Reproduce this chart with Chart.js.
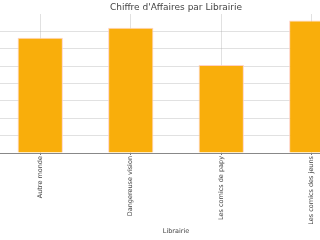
<!DOCTYPE html>
<html>
<head>
<meta charset="utf-8">
<script src="https://cdn.jsdelivr.net/npm/chart.js@4"></script>
<style>
  html, body { margin: 0; padding: 0; overflow: hidden; background: #fff; }
  #wrap { position: absolute; left: -5px; top: 0; width: 362px; height: 240px; }
</style>
</head>
<body>
<div id="wrap"><canvas id="caChart"></canvas></div>
<script>
"use strict";

// Chiffre d'affaires par librairie

let librairies = ["Autre monde", "Dangereuse vision", "Les comics de papy", "Les comics des jeuns"];
let chiffreAffaires = [31850, 34600, 24300, 36550];
let yStep = 5000;

let ctx_ca = document.getElementById("caChart").getContext("2d");
let gridColor = "rgba(170,170,170,0.35)";
let textColor = "#444";

let caChart = new Chart(ctx_ca, {
    type: "bar",
    data: {
        labels: librairies,
        datasets: [{
            label: "Chiffre d'Affaires",
            data: chiffreAffaires,
            backgroundColor: "#F9AE0B",
            borderColor: "rgba(255,205,190,0.9)",
            borderWidth: 1,
            barPercentage: 0.5,
            categoryPercentage: 1.0
        }]
    },
    options: {
        responsive: true,
        maintainAspectRatio: false,
        animation: false,
        layout: { padding: 0 },
        plugins: {
            legend: { display: false },
            tooltip: { enabled: false },
            title: {
                display: true,
                text: "Chiffre d'Affaires par Librairie",
                color: textColor,
                font: { family: "DejaVu Sans", size: 9, weight: "normal" },
                padding: { top: 2, bottom: 1.2 }
            }
        },
        scales: {
            x: {
                z: 1,
                grid: { color: gridColor, offset: false, tickLength: 2, tickColor: "#777" },
                border: { color: "#888", width: 1 },
                ticks: {
                    color: textColor,
                    font: { family: "DejaVu Sans", size: 6.5 },
                    minRotation: 90,
                    maxRotation: 90,
                    padding: 1
                },
                title: {
                    display: true,
                    text: "Librairie",
                    color: textColor,
                    font: { family: "DejaVu Sans", size: 6.5 },
                    padding: { top: 0, bottom: 5 }
                },
                afterFit: function(scale) { scale.height = 87; }
            },
            y: {
                z: 1,
                min: 0,
                max: Math.max(...chiffreAffaires) * 1.05,
                grid: {
                    color: function(c) {
                        let n = c.scale && c.scale.ticks ? c.scale.ticks.length : 0;
                        return (c.index === n - 1) ? "rgba(0,0,0,0)" : gridColor;
                    },
                    drawTicks: false
                },
                border: { display: false },
                ticks: { display: false, stepSize: yStep },
                afterFit: function(scale) { scale.width = 0; }
            }
        }
    }
});
</script>
</body>
</html>
